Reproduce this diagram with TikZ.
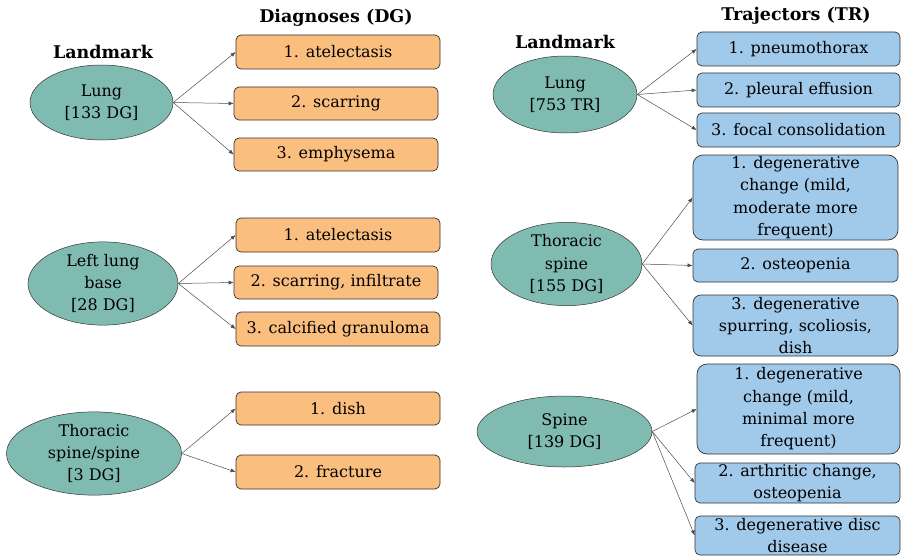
\documentclass[tikz,border=0pt]{standalone}
\usepackage{fontspec}
\setmainfont{DejaVu Serif}
\usetikzlibrary{arrows.meta, shapes.geometric}

\definecolor{lmteal}{RGB}{128,187,178}
\definecolor{dgorange}{RGB}{250,190,127}
\definecolor{trblue}{RGB}{160,201,234}

\begin{document}
\begin{tikzpicture}[x=1pt, y=-1pt,
    every node/.style={font=\fontsize{16}{22.3}\selectfont},
    landmark/.style={ellipse, draw=black!80, line width=0.5pt, fill=lmteal, inner sep=0pt, align=center},
    dgbox/.style={rectangle, rounded corners=5pt, draw=black!80, line width=0.7pt, fill=dgorange, minimum width=204pt, minimum height=34pt, inner sep=0pt, align=center},
    trbox/.style={dgbox, fill=trblue},
    header/.style={font=\fontsize{17.5}{22}\selectfont\bfseries},
    link/.style={-{Latex[length=5pt,width=4pt]}, draw=black!70, line width=0.5pt}]
    \useasboundingbox (0,0) rectangle (901,559);

    % Headers
    \node[header] (hlmA) at (103, 52) {Landmark};
    \node[header] (hdg) at (336, 18) {Diagnoses (DG)};
    \node[header] (hlmB) at (565, 42) {Landmark};
    \node[header] (htr) at (796, 16) {Trajectors (TR)};

    % Diagnoses: landmarks
    \node[landmark, minimum width=143pt, minimum height=75pt] (lungA) at (101.5, 102.5) {Lung\\{}[133 DG]};
    \node[landmark, minimum width=150pt, minimum height=73pt] (baseB) at (103, 283.5) {Left lung\\base\\{}[28 DG]};
    \node[landmark, minimum width=175pt, minimum height=73pt] (spineC) at (94, 453.5) {Thoracic\\spine/spine\\{}[3 DG]};

    % Diagnoses: boxes
    \node[dgbox] (dgA1) at (338, 52) {1. atelectasis};
    \node[dgbox, minimum height=33pt] (dgA2) at (336, 103.5) {2. scarring};
    \node[dgbox, minimum height=33pt] (dgA3) at (336, 154.5) {3. emphysema};
    \node[dgbox] (dgB1) at (338, 235) {1. atelectasis};
    \node[dgbox, minimum height=33pt] (dgB2) at (336, 282.5) {2. scarring, infiltrate};
    \node[dgbox] (dgB3) at (338, 329) {3. calcified granuloma};
    \node[dgbox, minimum height=33pt] (dgC1) at (338, 408.5) {1. dish};
    \node[dgbox] (dgC2) at (338, 472) {2. fracture};

    % Trajectors: landmarks
    \node[landmark, minimum width=144pt, minimum height=77pt] (lungD) at (565, 94.5) {Lung\\{}[753 TR]};
    \node[landmark, minimum width=151pt, minimum height=68pt] (thorE) at (566.5, 264) {Thoracic\\spine\\{}[155 DG]};
    \node[landmark, minimum width=175pt, minimum height=71pt] (spineF) at (564.5, 431.5) {Spine\\{}[139 DG]};

    % Trajectors: boxes
    \node[trbox, minimum width=203pt] (trD1) at (798.5, 49) {1. pneumothorax};
    \node[trbox, minimum width=203pt] (trD2) at (798.5, 90) {2. pleural effusion};
    \node[trbox, minimum width=203pt] (trD3) at (798.5, 130) {3. focal consolidation};
    \node[trbox, minimum width=205pt, minimum height=85pt, rounded corners=10pt] (trE1) at (795.5, 197.5) {1. degenerative\\change (mild,\\moderate more\\frequent)};
    \node[trbox, minimum width=205pt, minimum height=33pt] (trE2) at (795.5, 265.5) {2. osteopenia};
    \node[trbox, minimum width=205pt, minimum height=61pt, rounded corners=8pt] (trE3) at (795.5, 325.5) {3. degenerative\\spurring, scoliosis,\\dish};
    \node[trbox, minimum width=203pt, minimum height=90pt, rounded corners=10pt] (trF1) at (798.5, 409) {1. degenerative\\change (mild,\\minimal more\\frequent)};
    \node[trbox, minimum width=205pt, minimum height=40pt] (trF2) at (797.5, 483) {2. arthritic change,\\osteopenia};
    \node[trbox, minimum width=205pt, minimum height=39pt] (trF3) at (797.5, 535.5) {3. degenerative disc\\disease};

    % Connectors
    \foreach \b in {dgA1, dgA2, dgA3} \draw[link] (lungA.east) -- (\b.west);
    \foreach \b in {dgB1, dgB2, dgB3} \draw[link] (baseB.east) -- (\b.west);
    \foreach \b in {dgC1, dgC2} \draw[link] (spineC.east) -- (\b.west);
    \foreach \b in {trD1, trD2, trD3} \draw[link] (lungD.east) -- (\b.west);
    \foreach \b in {trE1, trE2, trE3} \draw[link] (thorE.east) -- (\b.west);
    \foreach \b in {trF1, trF2, trF3} \draw[link] (spineF.east) -- (\b.west);
\end{tikzpicture}
\end{document}
